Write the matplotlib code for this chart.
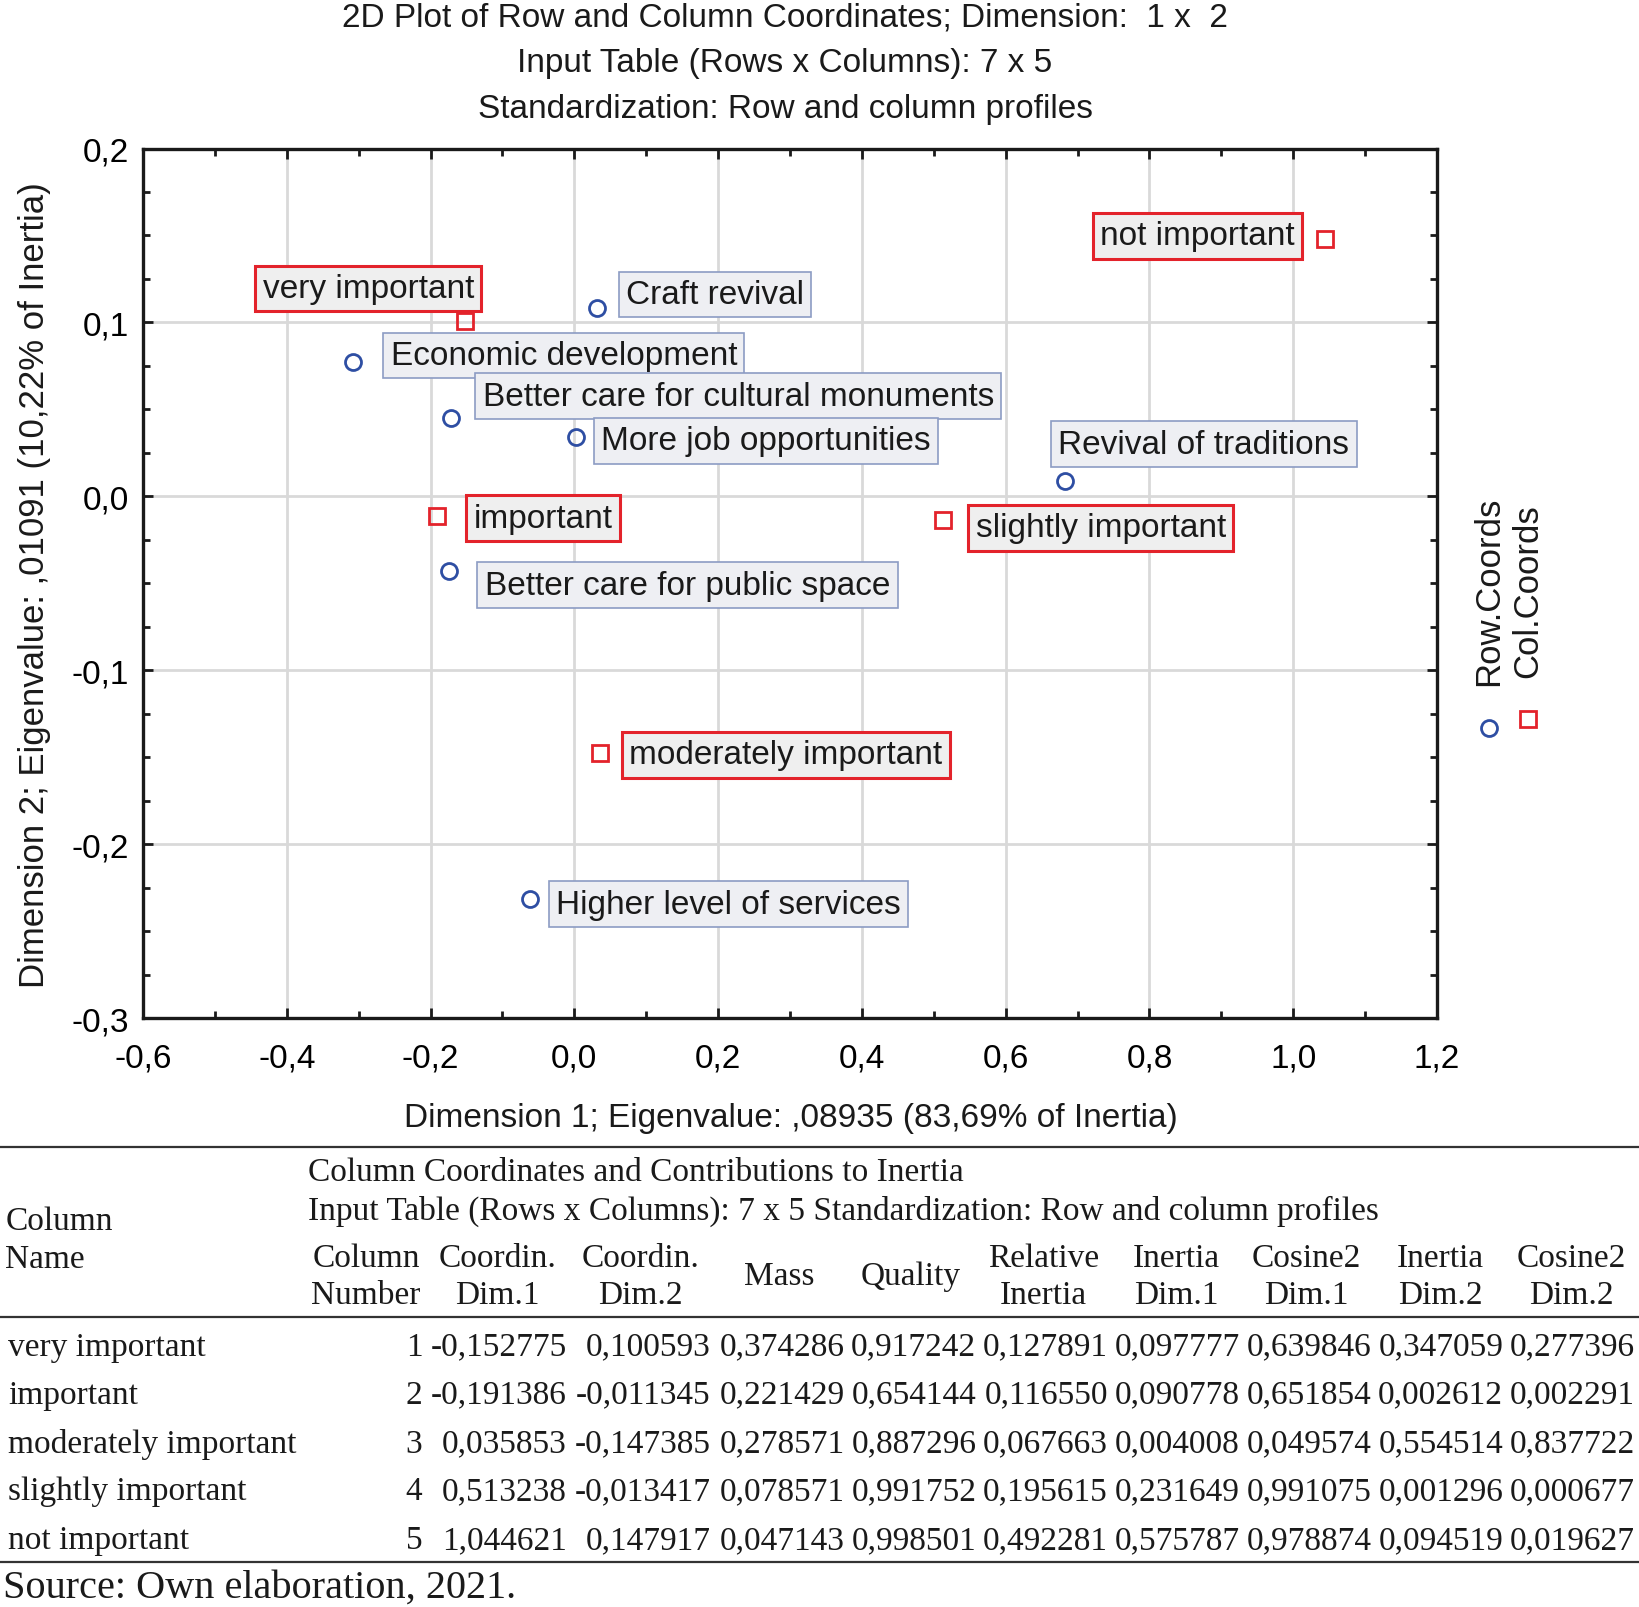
import matplotlib
matplotlib.use("Agg")
import matplotlib.pyplot as plt
from matplotlib.lines import Line2D
import numpy as np

# ---------------- data ----------------
row_names = ["Craft revival", "Economic development", "Better care for cultural monuments",
             "More job opportunities", "Revival of traditions", "Better care for public space",
             "Higher level of services"]
row_dim1 = [0.031, -0.308, -0.171, 0.002, 0.682, -0.174, -0.062]
row_dim2 = [0.108, 0.077, 0.045, 0.034, 0.009, -0.043, -0.2315]

col_names = ["very important", "important", "moderately important", "slightly important", "not important"]
col_number = [1, 2, 3, 4, 5]
col_dim1 = [-0.152775, -0.191386, 0.035853, 0.513238, 1.044621]
col_dim2 = [0.100593, -0.011345, -0.147385, -0.013417, 0.147917]
col_mass = [0.374286, 0.221429, 0.278571, 0.078571, 0.047143]
col_quality = [0.917242, 0.654144, 0.887296, 0.991752, 0.998501]
col_rel_inertia = [0.127891, 0.116550, 0.067663, 0.195615, 0.492281]
col_inertia_d1 = [0.097777, 0.090778, 0.004008, 0.231649, 0.575787]
col_cos2_d1 = [0.639846, 0.651854, 0.049574, 0.991075, 0.978874]
col_inertia_d2 = [0.347059, 0.002612, 0.554514, 0.001296, 0.094519]
col_cos2_d2 = [0.277396, 0.002291, 0.837722, 0.000677, 0.019627]

x_ticks = [-0.6, -0.4, -0.2, 0.0, 0.2, 0.4, 0.6, 0.8, 1.0, 1.2]
x_ticklabels = ["-0,6", "-0,4", "-0,2", "0,0", "0,2", "0,4", "0,6", "0,8", "1,0", "1,2"]
y_ticks = [-0.3, -0.2, -0.1, 0.0, 0.1, 0.2]
y_ticklabels = ["-0,3", "-0,2", "-0,1", "0,0", "0,1", "0,2"]

title_lines = ["2D Plot of Row and Column Coordinates; Dimension:  1 x  2",
               "Input Table (Rows x Columns): 7 x 5",
               "Standardization: Row and column profiles"]
xlabel = "Dimension 1; Eigenvalue: ,08935 (83,69% of Inertia)"
ylabel = "Dimension 2; Eigenvalue: ,01091 (10,22% of Inertia)"

# label placement (offsets in reference pixels: box edge dx, box centre dy (down +), anchor side)
row_label_offsets = [(21, -13.5, "left"), (29, -6.5, "left"), (23, -21, "left"), (17, 3.5, "left"),
                     (-13, -35, "left"), (27, 13.5, "left"), (18, 5, "left")]
col_label_offsets = [(16, -31.5, "right"), (28, 2, "left"), (21, 2, "left"), (24, 8, "left"),
                     (-22, -3, "right")]

# ---------------- figure ----------------
W, H = 1639, 1608
S = 1639 / 1568.0
fig = plt.figure(figsize=(W / 100, H / 100), dpi=100)
SANS = "Liberation Sans"
SERIF = "Liberation Serif"
FS = 24

ax = fig.add_axes([143 / W, 1 - 1019 / H, 1294 / W, 869.5 / H])
ax.set_xlim(-0.6, 1.2)
ax.set_ylim(-0.3, 0.2)
ax.set_xticks(x_ticks)
ax.set_xticklabels(x_ticklabels, fontsize=FS, family=SANS)
ax.set_yticks(y_ticks)
ax.set_yticklabels(y_ticklabels, fontsize=FS, family=SANS)
ax.set_xticks(np.arange(-0.6, 1.2001, 0.1), minor=True)
ax.set_yticks(np.arange(-0.3, 0.2001, 0.025), minor=True)
ax.tick_params(which="both", direction="in", top=True, right=True, width=2, color="#1a1a1a")
ax.tick_params(which="major", length=7)
ax.tick_params(which="minor", length=5)
ax.tick_params(axis="x", which="major", pad=18)
ax.tick_params(axis="y", which="major", pad=10)
for sp in ax.spines.values():
    sp.set_linewidth(2.4)
    sp.set_color("#1a1a1a")
ax.grid(True, which="major", color="#d9d9d9", lw=2)
ax.set_axisbelow(True)

BLUE = "#2e4ea3"
RED = "#e3232b"
MS = 11.5
ax.plot(row_dim1, row_dim2, linestyle="none", marker="o", ms=MS, mfc="none", mec=BLUE, mew=2, zorder=3)
ax.plot(col_dim1, col_dim2, linestyle="none", marker="s", ms=MS - 0.5, mfc="none", mec=RED, mew=2, zorder=3)

pad_frac = 0.22
pad_px = pad_frac * FS * 100 / 72
for name, x, y, (dx, dy, side) in zip(row_names, row_dim1, row_dim2, row_label_offsets):
    tx = dx * S + (pad_px if side == "left" else -pad_px)
    ax.annotate(name, (x, y), xytext=(tx, -dy * S), textcoords="offset pixels",
                ha=side, va="center", fontsize=FS, family=SANS, color="#1a1a1a", zorder=4,
                bbox=dict(boxstyle="square,pad=%.2f" % pad_frac, fc="#eeeff3", ec="#8c9cc4", lw=1.2))
for name, x, y, (dx, dy, side) in zip(col_names, col_dim1, col_dim2, col_label_offsets):
    tx = dx * S + (pad_px if side == "left" else -pad_px)
    ax.annotate(name, (x, y), xytext=(tx, -dy * S), textcoords="offset pixels",
                ha=side, va="center", fontsize=FS, family=SANS, color="#1a1a1a", zorder=4,
                bbox=dict(boxstyle="square,pad=%.2f" % pad_frac, fc="#efefef", ec=RED, lw=2.2))

# titles
for yy, t in zip([17.6, 63.6, 109.6], title_lines):
    fig.text(785 / W, 1 - yy / H, t, ha="center", va="center", fontsize=FS, family=SANS, color="#1a1a1a")
fig.text(791 / W, 1 - 1119 / H, xlabel, ha="center", va="center", fontsize=FS, family=SANS, color="#1a1a1a")
fig.text(34.5 / W, 1 - 585 / H, ylabel, ha="center", va="center", rotation=90, fontsize=25, family=SANS,
         color="#1a1a1a")

# legend (rotated)
fig.text(1488.5 / W, 1 - 591.6 / H, "Row.Coords", rotation=90, ha="center", va="center", fontsize=25,
         family=SANS, color="#1a1a1a")
fig.text(1528 / W, 1 - 591.6 / H, "Col.Coords", rotation=90, ha="center", va="center", fontsize=25,
         family=SANS, color="#1a1a1a")
fig.add_artist(Line2D([1488.5 / W], [1 - 728.6 / H], marker="o", ms=MS, mfc="none", mec=BLUE, mew=2,
                      transform=fig.transFigure))
fig.add_artist(Line2D([1528 / W], [1 - 720 / H], marker="s", ms=MS - 0.5, mfc="none", mec=RED, mew=2,
                      transform=fig.transFigure))

# ---------------- table ----------------
TFS = 24
TC = "#1a1a1a"
def ft(x, y, s, size=TFS, **kw):
    fig.text(x / W, 1 - y / H, s, fontsize=size, family=SERIF, color=TC, va="center", **kw)

for yl in [1147.7, 1318, 1562.7]:
    fig.add_artist(Line2D([0, 1], [1 - yl / H] * 2, color="#333333", lw=1.6, transform=fig.transFigure))

ft(308.4, 1173, "Column Coordinates and Contributions to Inertia", ha="left")
ft(308.4, 1211.5, "Input Table (Rows x Columns): 7 x 5 Standardization: Row and column profiles", ha="left")
ft(5.2, 1222, "Column", ha="left")
ft(5.2, 1259.5, "Name", ha="left")

header_two = [("Column", "Number"), ("Coordin.", "Dim.1"), ("Coordin.", "Dim.2"), None, None,
              ("Relative", "Inertia"), ("Inertia", "Dim.1"), ("Cosine2", "Dim.1"), ("Inertia", "Dim.2"),
              ("Cosine2", "Dim.2")]
header_one = [None, None, None, "Mass", "Quality", None, None, None, None, None]
hx = [365.9, 497.6, 640.8, 778.8, 910.5, 1043.2, 1176, 1306.6, 1440.5, 1571.1]
for x, h2, h1 in zip(hx, header_two, header_one):
    if h2:
        ft(x, 1258.5, h2[0], ha="center")
        ft(x, 1296, h2[1], ha="center")
    else:
        ft(x, 1277, h1, ha="center")

def fmt(v):
    return ("%.6f" % v).replace(".", ",")

cols = [col_dim1, col_dim2, col_mass, col_quality, col_rel_inertia, col_inertia_d1, col_cos2_d1,
        col_inertia_d2, col_cos2_d2]
rx = [566.6, 710.8, 844.6, 976.3, 1108, 1239.7, 1371.4, 1503.2, 1634.9]
ry = [1347.5, 1395.5, 1444.5, 1491.6, 1540.7]
for i, yy in enumerate(ry):
    ft(8.4, yy, col_names[i], ha="left")
    ft(422.3, yy, str(col_number[i]), ha="right")
    for x, c in zip(rx, cols):
        ft(x, yy, fmt(c[i]), ha="right")

ft(3.1, 1588.5, "Source: Own elaboration, 2021.", size=29, ha="left")

fig.savefig("out.png", dpi=100)
